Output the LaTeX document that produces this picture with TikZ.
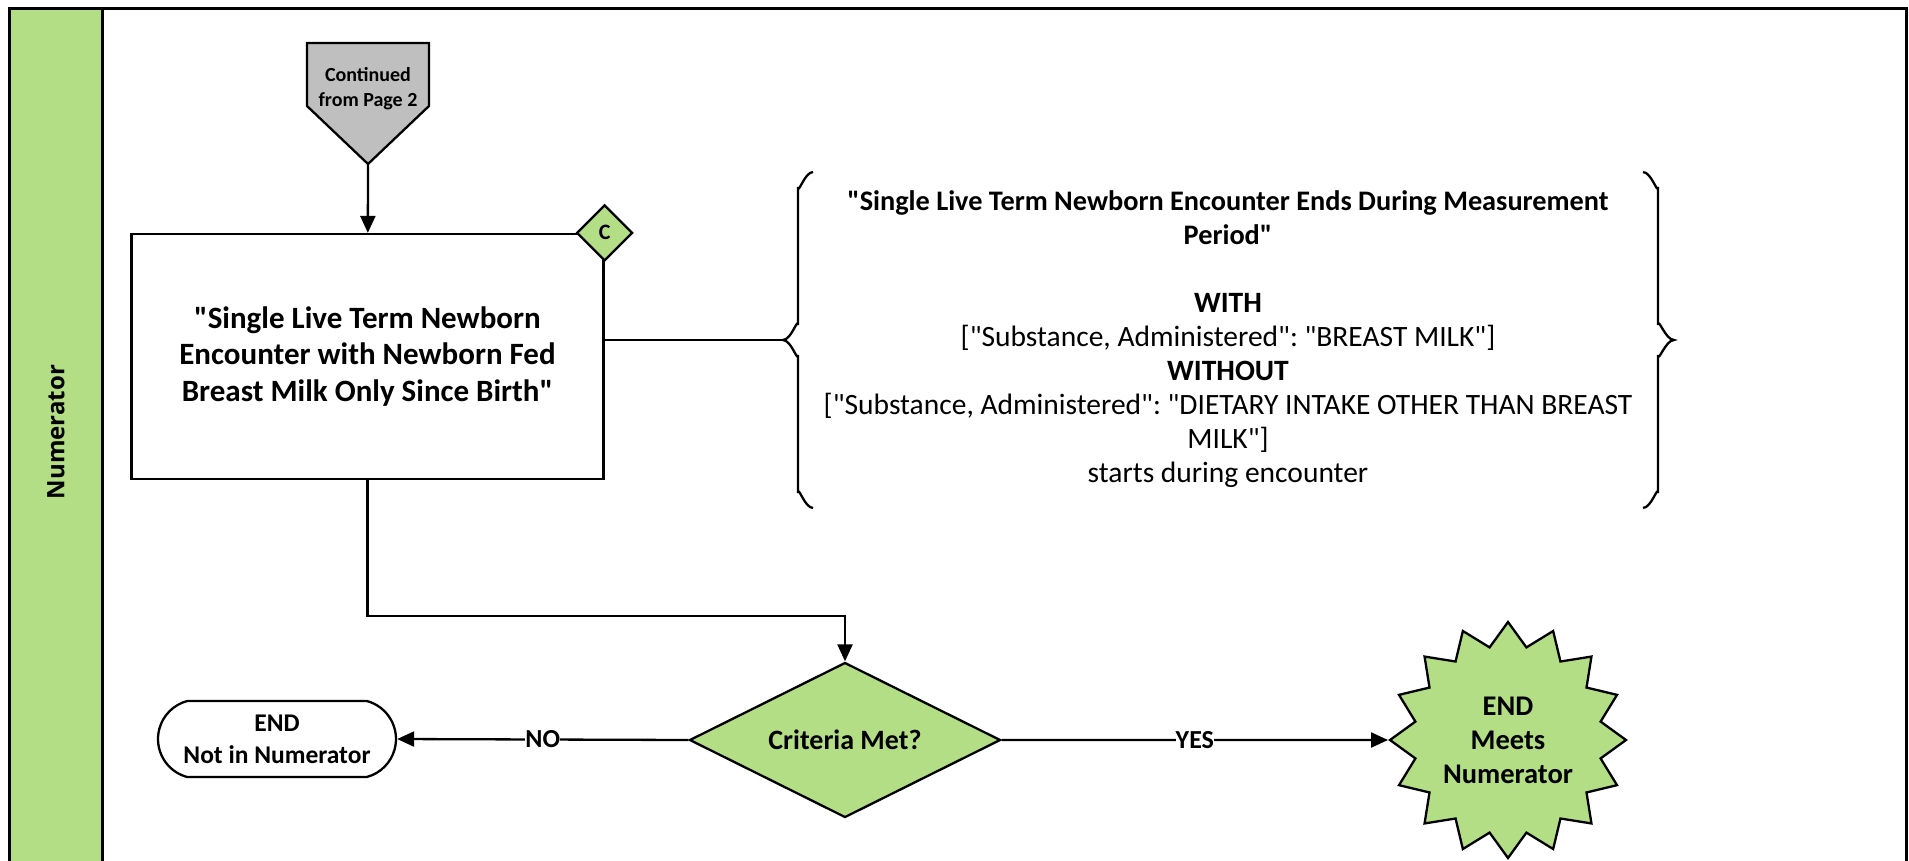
\documentclass[tikz,border=0pt]{standalone}
\usepackage{fontspec}
\setmainfont{Carlito}[Ligatures=TeXOff]
\newfontfamily\lanefont{Open Sans}
\usetikzlibrary{shapes.geometric,shapes.misc,arrows.meta}
\definecolor{lane}{RGB}{179,222,134}
\definecolor{cont}{RGB}{191,191,191}
\def\lw{2.3pt}
\def\bt#1{{\bfseries\fontsize{28.3}{34}\selectfont #1}}
\frenchspacing

\begin{document}
\begin{tikzpicture}[x=1pt, y=-1pt, line width=\lw, >={Triangle[length=17pt,width=15pt]}, every node/.style={inner sep=0, align=center}]

		\useasboundingbox (0,0) rectangle (1909,860);

		\fill[lane] (9,8) rectangle (102,880);
		\draw[line width=3pt] (9,880) -- (9,8) -- (1906,8) -- (1906,880);
		\draw[line width=3pt] (102,8) -- (102,880);
		\node (LN) at (56,432) [rotate=90, font=\lanefont\bfseries\fontsize{24}{30}\selectfont] {Numerator};

		\draw[fill=cont] (307,43) -- (429,43) -- (429,106) -- (368,164) -- (307,106) -- cycle;
		\node (CP) at (368,89) [font=\bfseries\fontsize{20}{25}\selectfont] {Continued\\from Page 2};
		\coordinate (CT) at (368,164);

		\node (NB) at (367.5,356.5) [draw, fill=white, minimum width=472, minimum height=245, font=\bfseries\fontsize{31}{36.5}\selectfont] {"Single Live Term Newborn\\Encounter with Newborn Fed\\Breast Milk Only Since Birth"};
		\node (C) at (NB.north east) [diamond, draw, fill=lane, minimum size=56, font=\bfseries\fontsize{22}{24}\selectfont] {C};

		\draw[->] (CT) to (NB);

		\coordinate (BL) at (783,340);
		\coordinate (BR) at (1674,340);
		\draw (NB.east |- BL) -- (BL);
		\draw (813,172) to[out=180,in=-90] (798,187) -- (798,325) to[out=90,in=0] (BL) to[out=0,in=-90] (798,355) -- (798,493) to[out=90,in=180] (813,508);
		\draw (1643,172) to[out=0,in=-90] (1658,187) -- (1658,325) to[out=90,in=180] (BR) to[out=180,in=-90] (1658,355) -- (1658,493) to[out=90,in=0] (1643,508);

		\node (BT) at (1228,339) [font=\fontsize{29.5}{34}\selectfont] {\bt{"Single Live Term Newborn Encounter Ends During Measurement}\\\bt{Period"}\\[34pt]\textbf{WITH}\\{[}"Substance, Administered": "BREAST MILK"{]}\\\textbf{WITHOUT}\\{[}"Substance, Administered": "DIETARY INTAKE OTHER THAN BREAST\\MILK"{]}\\starts during encounter};

		\node (CM) at (845,740) [diamond, aspect=2, draw, fill=lane, minimum width=311, minimum height=155, font=\bfseries\fontsize{28}{30}\selectfont] {Criteria Met?};
		\node (EN) at (277,739) [rounded rectangle, rounded rectangle arc length=150, draw, fill=white, minimum width=238, minimum height=76, font=\bfseries\fontsize{25.5}{32}\selectfont] {END\\Not in Numerator};
		\node (EM) at (1508,740) [star, star points=16, star point ratio=1.25, draw, fill=lane, minimum size=236, font=\bfseries\fontsize{28.5}{34}\selectfont] {END\\Meets\\Numerator};

		\draw[->] (NB.south) -- ++(0,136) -| (CM.north);
		\draw[->] (CM.west) -- node[fill=white, font=\bfseries\fontsize{26}{30}\selectfont] {NO} (EN.east);
		\draw[->] (CM.east) -- node[fill=white, font=\bfseries\fontsize{26}{30}\selectfont] {YES} (EM.west);

	\end{tikzpicture}
\end{document}
